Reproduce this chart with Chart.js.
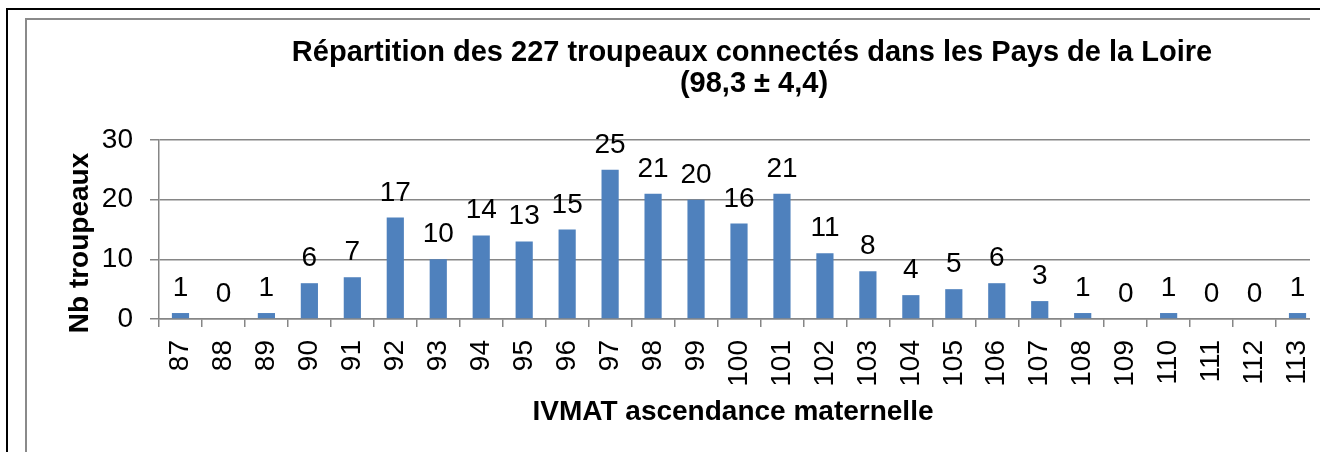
<!DOCTYPE html>
<html>
<head>
<meta charset="utf-8">
<script src="https://cdn.jsdelivr.net/npm/chart.js@4.4.1/dist/chart.umd.min.js"></script>
<style>
    html, body { margin: 0; padding: 0; background: #fff; }
    #wrap { position: relative; width: 1320px; height: 452px; overflow: hidden; }
    #outer { position: absolute; left: 6px; top: 8px; width: 1400px; height: 500px; border-left: 2px solid #000; border-top: 2px solid #000; }
    #inner { position: absolute; left: 25px; top: 18px; width: 1283px; height: 500px; border-left: 2px solid #8a8a8a; border-top: 2px solid #8a8a8a; }
    #chart { position: absolute; left: 0; top: 0; }
    #clip { position: absolute; left: 1310px; top: 11px; width: 20px; height: 460px; background: #fff; }
</style>
</head>
<body>
<div id="wrap">
    <div id="outer"></div>
    <div id="inner"></div>
    <canvas id="chart" width="1320" height="452"></canvas>
    <div id="clip"></div>
</div>
<script>
// IVMAT values (x categories) and number of herds per value
const categories = ['87', '88', '89', '90', '91', '92', '93', '94', '95', '96', '97', '98', '99', '100',
    '101', '102', '103', '104', '105', '106', '107', '108', '109', '110', '111', '112', '113'];
const herdCounts = [1, 0, 1, 6, 7, 17, 10, 14, 13, 15, 25, 21, 20, 16, 21, 11, 8, 4, 5, 6, 3, 1, 0, 1, 0, 0, 1];
const yTicks = [0, 10, 20, 30];

const titleLines = ['Répartition des 227 troupeaux connectés dans les Pays de la Loire', '(98,3 ± 4,4)'];
const xTitle = 'IVMAT ascendance maternelle';
const yTitle = 'Nb troupeaux';

const FONT = "'Liberation Sans', Arial, sans-serif";
const GRID = '#868686';

// titles + value labels drawn on top of the bars
const annotations = {
    id: 'annotations',
    afterDatasetsDraw(chart) {
        const { ctx } = chart;
        ctx.save();
        ctx.fillStyle = '#000';
        ctx.textAlign = 'center';
        ctx.textBaseline = 'alphabetic';

        ctx.font = `28px ${FONT}`;
        chart.getDatasetMeta(0).data.forEach((bar, i) => {
            ctx.fillText(String(herdCounts[i]), bar.x, bar.y - 17);
        });

        ctx.font = `bold 29px ${FONT}`;
        ctx.fillText(titleLines[0], 752, 61);
        ctx.fillText(titleLines[1], 754, 92);

        ctx.font = `bold 28px ${FONT}`;
        ctx.fillText(xTitle, 733, 420);

        ctx.translate(88, 243);
        ctx.rotate(-Math.PI / 2);
        ctx.fillText(yTitle, 0, 0);
        ctx.restore();
    },
};

new Chart(document.getElementById('chart').getContext('2d'), {
    type: 'bar',
    data: {
        labels: categories,
        datasets: [
            {
                data: herdCounts,
                backgroundColor: '#4f81bd',
                borderWidth: 0,
                barPercentage: 0.4,
                categoryPercentage: 1,
            },
        ],
    },
    options: {
        responsive: false,
        animation: false,
        devicePixelRatio: 1,
        layout: { padding: { left: 0, right: 1, top: 140, bottom: 0 } },
        plugins: {
            legend: { display: false },
            title: { display: false },
            tooltip: { enabled: false },
        },
        scales: {
            y: {
                min: 0,
                max: 30,
                afterFit: (scale) => { scale.width = 159; },
                afterBuildTicks: (scale) => { scale.ticks = yTicks.map((v) => ({ value: v })); },
                ticks: { font: { family: FONT, size: 28 }, color: '#000', padding: 17 },
                grid: { color: GRID, lineWidth: 1.5, tickLength: 9 },
                border: { color: GRID, width: 1.5 },
            },
            x: {
                afterFit: (scale) => {
                    scale.height = 133;
                    // rotated labels would otherwise push the plot in from the right
                    scale.paddingLeft = 0;
                    scale.paddingRight = 0;
                },
                ticks: {
                    font: { family: FONT, size: 28 },
                    color: '#000',
                    minRotation: 90,
                    maxRotation: 90,
                    autoSkip: false,
                    padding: 13,
                },
                grid: { offset: true, drawOnChartArea: false, color: GRID, lineWidth: 1.5, tickLength: 8 },
                border: { color: GRID, width: 1.5 },
            },
        },
    },
    plugins: [annotations],
});
</script>
</body>
</html>
